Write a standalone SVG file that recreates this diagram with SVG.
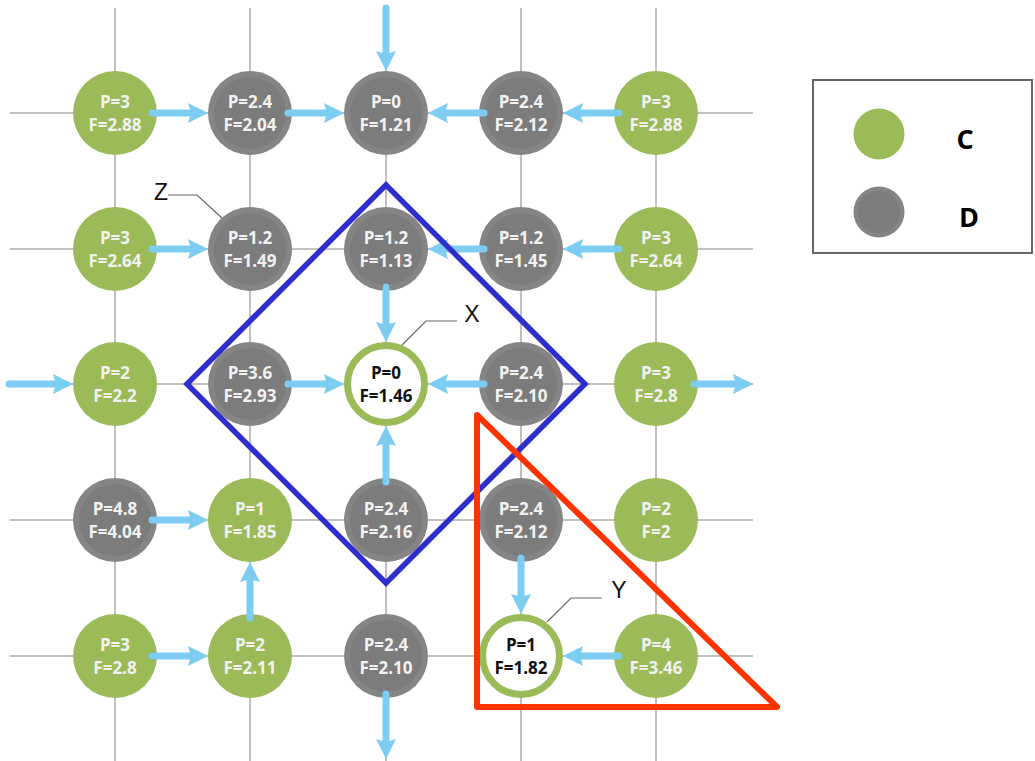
<svg xmlns="http://www.w3.org/2000/svg" width="1035" height="761" viewBox="0 0 1035 761">
<style>
.grid{stroke:#ababab;stroke-width:1.5;fill:none}
.c{fill:#9bbb59}
.dO{fill:#858585}
.dI{fill:#7c7c7c}
.ring{fill:#ffffff;stroke:#9bbb59;stroke-width:7}
.t{font-family:"Open Sans","Liberation Sans",sans-serif;font-weight:700;font-size:17px;text-anchor:middle;fill:#f2f2f2}
.tk{fill:#111111}
.arr{stroke:#7ccdf1;stroke-width:7;fill:none;stroke-linecap:round;marker-end:url(#ah)}
.lbl{font-family:"Liberation Sans","DejaVu Sans",sans-serif;font-size:23px;fill:#111111}
.call{stroke:#666666;stroke-width:1.2;fill:none}
.leg{font-family:"Open Sans","Liberation Sans",sans-serif;font-weight:700;font-size:27px;fill:#000000;text-anchor:middle}
</style>
<defs>
<marker id="ah" viewBox="0 0 20 20" refX="8" refY="10" markerWidth="20" markerHeight="20" markerUnits="userSpaceOnUse" orient="auto">
<path d="M0,0 L20,10 L0,20 L3,10 z" fill="#7ccdf1"/>
</marker>
</defs>
<rect width="1035" height="761" fill="#ffffff"/>
<g id="grid">
<line class="grid" x1="10" y1="113" x2="753" y2="113"/>
<line class="grid" x1="10" y1="249" x2="753" y2="249"/>
<line class="grid" x1="10" y1="384" x2="753" y2="384"/>
<line class="grid" x1="10" y1="520" x2="753" y2="520"/>
<line class="grid" x1="10" y1="656" x2="753" y2="656"/>
<line class="grid" x1="115" y1="8" x2="115" y2="761"/>
<line class="grid" x1="250" y1="8" x2="250" y2="761"/>
<line class="grid" x1="386" y1="8" x2="386" y2="761"/>
<line class="grid" x1="521" y1="8" x2="521" y2="761"/>
<line class="grid" x1="656" y1="8" x2="656" y2="761"/>
</g>
<g id="nodes">
<g id="n00"><circle class="c" cx="115" cy="113" r="42"/><text class="t" x="115" y="108">P=3</text><text class="t" x="115" y="131">F=2.88</text></g>
<g id="n10"><circle class="dO" cx="250" cy="113" r="42"/><circle class="dI" cx="250" cy="113" r="36"/><text class="t" x="250" y="108">P=2.4</text><text class="t" x="250" y="131">F=2.04</text></g>
<g id="n20"><circle class="dO" cx="386" cy="113" r="42"/><circle class="dI" cx="386" cy="113" r="36"/><text class="t" x="386" y="108">P=0</text><text class="t" x="386" y="131">F=1.21</text></g>
<g id="n30"><circle class="dO" cx="521" cy="113" r="42"/><circle class="dI" cx="521" cy="113" r="36"/><text class="t" x="521" y="108">P=2.4</text><text class="t" x="521" y="131">F=2.12</text></g>
<g id="n40"><circle class="c" cx="656" cy="113" r="42"/><text class="t" x="656" y="108">P=3</text><text class="t" x="656" y="131">F=2.88</text></g>

<g id="n01"><circle class="c" cx="115" cy="249" r="42"/><text class="t" x="115" y="244">P=3</text><text class="t" x="115" y="267">F=2.64</text></g>
<g id="n11"><circle class="dO" cx="250" cy="249" r="42"/><circle class="dI" cx="250" cy="249" r="36"/><text class="t" x="250" y="244">P=1.2</text><text class="t" x="250" y="267">F=1.49</text></g>
<g id="n21"><circle class="dO" cx="386" cy="249" r="42"/><circle class="dI" cx="386" cy="249" r="36"/><text class="t" x="386" y="244">P=1.2</text><text class="t" x="386" y="267">F=1.13</text></g>
<g id="n31"><circle class="dO" cx="521" cy="249" r="42"/><circle class="dI" cx="521" cy="249" r="36"/><text class="t" x="521" y="244">P=1.2</text><text class="t" x="521" y="267">F=1.45</text></g>
<g id="n41"><circle class="c" cx="656" cy="249" r="42"/><text class="t" x="656" y="244">P=3</text><text class="t" x="656" y="267">F=2.64</text></g>

<g id="n02"><circle class="c" cx="115" cy="384" r="42"/><text class="t" x="115" y="379">P=2</text><text class="t" x="115" y="402">F=2.2</text></g>
<g id="n12"><circle class="dO" cx="250" cy="384" r="42"/><circle class="dI" cx="250" cy="384" r="36"/><text class="t" x="250" y="379">P=3.6</text><text class="t" x="250" y="402">F=2.93</text></g>
<g id="nX"><circle class="ring" cx="386" cy="384" r="38.5"/><text class="t tk" x="386" y="379">P=0</text><text class="t tk" x="386" y="402">F=1.46</text></g>
<g id="n32"><circle class="dO" cx="521" cy="384" r="42"/><circle class="dI" cx="521" cy="384" r="36"/><text class="t" x="521" y="379">P=2.4</text><text class="t" x="521" y="402">F=2.10</text></g>
<g id="n42"><circle class="c" cx="656" cy="384" r="42"/><text class="t" x="656" y="379">P=3</text><text class="t" x="656" y="402">F=2.8</text></g>

<g id="n03"><circle class="dO" cx="115" cy="520" r="42"/><circle class="dI" cx="115" cy="520" r="36"/><text class="t" x="115" y="515">P=4.8</text><text class="t" x="115" y="538">F=4.04</text></g>
<g id="n13"><circle class="c" cx="250" cy="520" r="42"/><text class="t" x="250" y="515">P=1</text><text class="t" x="250" y="538">F=1.85</text></g>
<g id="n23"><circle class="dO" cx="386" cy="520" r="42"/><circle class="dI" cx="386" cy="520" r="36"/><text class="t" x="386" y="515">P=2.4</text><text class="t" x="386" y="538">F=2.16</text></g>
<g id="n33"><circle class="dO" cx="521" cy="520" r="42"/><circle class="dI" cx="521" cy="520" r="36"/><text class="t" x="521" y="515">P=2.4</text><text class="t" x="521" y="538">F=2.12</text></g>
<g id="n43"><circle class="c" cx="656" cy="520" r="42"/><text class="t" x="656" y="515">P=2</text><text class="t" x="656" y="538">F=2</text></g>

<g id="n04"><circle class="c" cx="115" cy="656" r="42"/><text class="t" x="115" y="651">P=3</text><text class="t" x="115" y="674">F=2.8</text></g>
<g id="n14"><circle class="c" cx="250" cy="656" r="42"/><text class="t" x="250" y="651">P=2</text><text class="t" x="250" y="674">F=2.11</text></g>
<g id="n24"><circle class="dO" cx="386" cy="656" r="42"/><circle class="dI" cx="386" cy="656" r="36"/><text class="t" x="386" y="651">P=2.4</text><text class="t" x="386" y="674">F=2.10</text></g>
<g id="nY"><circle class="ring" cx="521" cy="656" r="38.5"/><text class="t tk" x="521" y="651">P=1</text><text class="t tk" x="521" y="674">F=1.82</text></g>
<g id="n44"><circle class="c" cx="656" cy="656" r="42"/><text class="t" x="656" y="651">P=4</text><text class="t" x="656" y="674">F=3.46</text></g>
</g>
<g id="connectors">
<path class="arr" d="M152,113 L196,113"/>
<path class="arr" d="M288,113 L332,113"/>
<path class="arr" d="M484,113 L440,113"/>
<path class="arr" d="M619,113 L575,113"/>
<path class="arr" d="M386,8 L386,59"/>
<path class="arr" d="M152,249 L196,249"/>
<path class="arr" d="M484,249 L440,249"/>
<path class="arr" d="M619,249 L575,249"/>
<path class="arr" d="M386,287 L386,330"/>
<path class="arr" d="M9,384 L61,384"/>
<path class="arr" d="M288,384 L332,384"/>
<path class="arr" d="M484,384 L440,384"/>
<path class="arr" d="M694,384 L741,384"/>
<path class="arr" d="M386,482 L386,438"/>
<path class="arr" d="M152,520 L196,520"/>
<path class="arr" d="M250,618 L250,574"/>
<path class="arr" d="M521,558 L521,602"/>
<path class="arr" d="M152,656 L196,656"/>
<path class="arr" d="M619,656 L575,656"/>
<path class="arr" d="M386,694 L386,747"/>
</g>
<g id="regionX">
<polygon points="386,185 585,384 386,583 187,384" fill="none" stroke="#2e2ec8" stroke-width="5.5" stroke-linejoin="miter"/>
</g>
<g id="regionY">
<polygon points="477,415 777,707 477,707" fill="none" stroke="#ff3300" stroke-width="6" stroke-linejoin="round"/>
</g>
<g id="callouts">
<polyline class="call" points="168,195 197,195 222,218"/>
<text class="lbl" x="161" y="200" text-anchor="middle">Z</text>
<polyline class="call" points="457,321 426,321 402,345"/>
<text class="lbl" x="472" y="322" text-anchor="middle">X</text>
<polyline class="call" points="602,598 571,598 547,622"/>
<text class="lbl" x="619" y="598" text-anchor="middle">Y</text>
</g>
<g id="legend">
<rect x="813" y="80" width="219" height="173" fill="#ffffff" stroke="#666666" stroke-width="2"/>
<circle class="c" cx="879" cy="134" r="25.5"/>
<circle class="dO" cx="879" cy="212" r="25.5"/>
<circle class="dI" cx="879" cy="212" r="21"/>
<text class="leg" x="965" y="149">C</text>
<text class="leg" x="969" y="227">D</text>
</g>
</svg>
